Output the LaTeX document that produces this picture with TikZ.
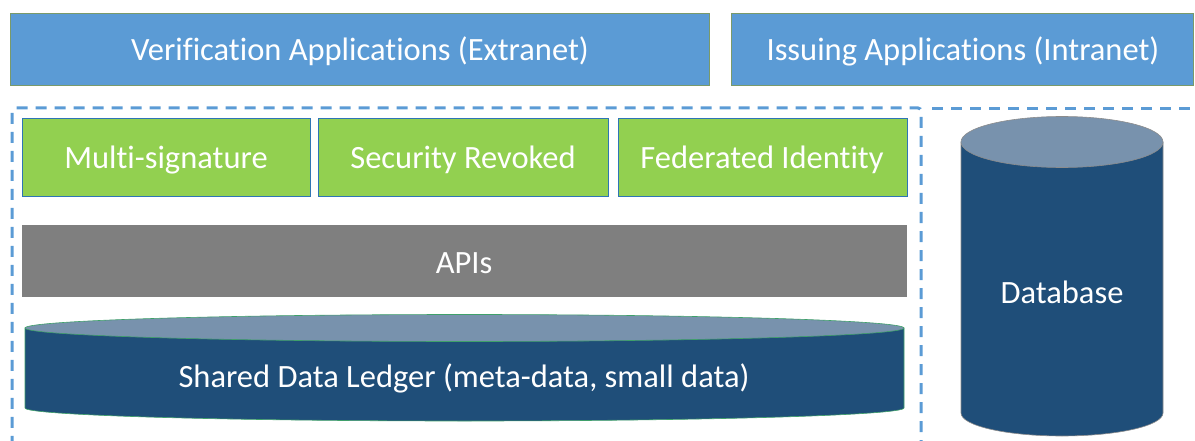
\documentclass[tikz,border=0pt]{standalone}
\usepackage{fontspec}
\setmainfont[Ligatures=NoCommon]{Carlito}
\definecolor{appblue}{HTML}{5B9BD5}
\definecolor{appedge}{HTML}{7A9A6A}
\definecolor{featgreen}{HTML}{92D050}
\definecolor{featedge}{HTML}{2E75B6}
\definecolor{apigray}{HTML}{7F7F7F}
\definecolor{cyldark}{HTML}{1F4E79}
\definecolor{cyltop}{HTML}{7892AD}
\definecolor{ledgeredge}{HTML}{3FA06A}
\definecolor{dbedge}{HTML}{8C8C8C}
\tikzset{
  lbl/.style={text=white, font=\fontsize{32.5}{38}\selectfont, inner sep=0pt},
  appbox/.style={fill=appblue, draw=appedge, line width=0.8pt},
  featbox/.style={fill=featgreen, draw=featedge, line width=1pt},
  apibox/.style={fill=apigray},
  groupline/.style={draw=appblue, line width=3pt, dash pattern=on 11pt off 8pt},
}
\begin{document}
\begin{tikzpicture}[x=1pt,y=-1pt]
\useasboundingbox (0,0) rectangle (1195,441);
% top application boxes
\draw[appbox] (10,13) rectangle (709,85);
\draw[appbox] (731,13) rectangle (1193,85);
\node[lbl] (verif) at (360,51) {Verification Applications (Extranet)};
\node[lbl] (issue) at (963,51) {Issuing Applications (Intranet)};
% dashed group outlines
\draw[groupline, rounded corners=3pt] (921,470) -- (921,108) -- (12,108) -- (12,470);
\draw[groupline] (932,109) -- (1200,109);
% feature boxes
\draw[featbox] (22,119) rectangle (310,197);
\draw[featbox] (318,119) rectangle (608,197);
\draw[featbox] (618,119) rectangle (907,197);
\node[lbl] (multi) at (166,160) {Multi-signature};
\node[lbl] (revoked) at (463,160) {Security Revoked};
\node[lbl] (fed) at (762,160) {Federated Identity};
% APIs
\fill[apibox] (22,225) rectangle (907,297);
\node[lbl] (apis) at (464,263) {APIs};
% shared data ledger cylinder
\filldraw[fill=cyldark, draw=ledgeredge, line width=0.6pt]
  (25,328) -- (25,408) arc[start angle=180, end angle=0, x radius=439.5, y radius=13] -- (904,328) -- cycle;
\filldraw[fill=cyltop, draw=ledgeredge, line width=0.6pt] (464.5,328) ellipse[x radius=439.5, y radius=13.5];
\node[lbl] (ledger) at (464,378) {Shared Data Ledger (meta-data, small data)};
% database cylinder
\filldraw[fill=cyldark, draw=dbedge, line width=0.6pt]
  (961,142) -- (961,413) arc[start angle=180, end angle=0, x radius=101, y radius=23] -- (1163,142) -- cycle;
\filldraw[fill=cyltop, draw=dbedge, line width=0.6pt] (1062,142) ellipse[x radius=101, y radius=25.5];
\node[lbl] (db) at (1062,292) {Database};
\end{tikzpicture}
\end{document}
